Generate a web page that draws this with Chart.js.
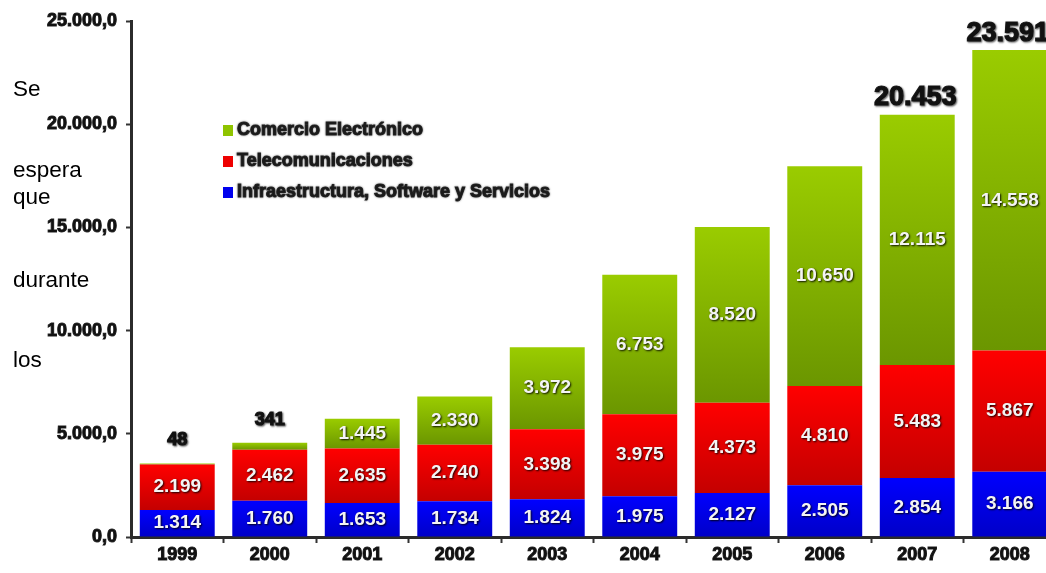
<!DOCTYPE html>
<html>
<head>
<meta charset="utf-8">
<script src="https://cdn.jsdelivr.net/npm/chart.js@4"></script>
<style>
  body { margin: 0; overflow: hidden; background: #fff; }
  #wrap { position: relative; width: 1046px; height: 573px; overflow: hidden; }
  #grafico { position: absolute; left: 0; top: 0; filter: blur(0.6px); }
  .nota { position: absolute; left: 13px; font: 22.5px "Liberation Sans", Arial, sans-serif; line-height: 22px; color: #000; }
</style>
</head>
<body>
<div id="wrap">
  <canvas id="grafico" width="1056" height="573"></canvas>
  <div class="nota" style="top:78px">Se</div>
  <div class="nota" style="top:159px">espera</div>
  <div class="nota" style="top:186px">que</div>
  <div class="nota" style="top:269px">durante</div>
  <div class="nota" style="top:349px">los</div>
</div>
<script>
(function () {
  // Datos por año
  var years = ["1999", "2000", "2001", "2002", "2003", "2004", "2005", "2006", "2007", "2008"];
  var infraestructura = [1314, 1760, 1653, 1734, 1824, 1975, 2127, 2505, 2854, 3166];
  var telecomunicaciones = [2199, 2462, 2635, 2740, 3398, 3975, 4373, 4810, 5483, 5867];
  var comercio = [48, 341, 1445, 2330, 3972, 6753, 8520, 10650, 12115, 14558];
  var yTicks = [0, 5000, 10000, 15000, 20000, 25000];
  // totales publicados encima de las dos últimas barras
  var totalYears = ["2007", "2008"];
  var totalValues = [20453, 23591];

  function fmt(n, dec) {
    var s = Math.round(n).toString().replace(/\B(?=(\d{3})+(?!\d))/g, ".");
    return dec ? s + ",0" : s;
  }

  // degradado vertical de cada tramo apilado
  function gradient(top, bottom) {
    return function (ctx) {
      var c = ctx.chart;
      if (ctx.type !== "data" || !c.chartArea) return top;
      var start = 0;
      for (var k = 0; k < ctx.datasetIndex; k++) start += c.data.datasets[k].data[ctx.dataIndex];
      var end = start + c.data.datasets[ctx.datasetIndex].data[ctx.dataIndex];
      var y0 = c.scales.y.getPixelForValue(end);
      var y1 = c.scales.y.getPixelForValue(start);
      if (!isFinite(y0) || !isFinite(y1) || y0 === y1) return top;
      var g = c.ctx.createLinearGradient(0, y0, 0, y1);
      g.addColorStop(0, top);
      g.addColorStop(1, bottom);
      return g;
    };
  }

  var legendItems = [
    { label: "Comercio Electrónico", color: "#8fc400" },
    { label: "Telecomunicaciones", color: "#ee0000" },
    { label: "Infraestructura, Software y Servicios", color: "#0000ee" }
  ];

  var legendPlugin = {
    id: "leyenda",
    afterDraw: function (chart) {
      var ctx = chart.ctx;
      var x = chart.chartArea.left + 92;
      var y = chart.chartArea.top + 109;
      ctx.save();
      ctx.font = "bold 18px 'Liberation Sans', Arial, sans-serif";
      ctx.textBaseline = "middle";
      legendItems.forEach(function (it, i) {
        var yy = y + i * 31;
        ctx.fillStyle = it.color;
        ctx.fillRect(x, yy - 5, 10, 11);
        ctx.fillStyle = "#1a1a1a";
        ctx.strokeStyle = "#333";
        ctx.lineWidth = 1;
        ctx.shadowColor = "rgba(0,0,0,0.5)";
        ctx.shadowBlur = 2;
        ctx.strokeText(it.label, x + 14, yy);
        ctx.fillText(it.label, x + 14, yy);
        ctx.shadowBlur = 0;
      });
      ctx.restore();
    }
  };

  function darkText(ctx, text, x, y) {
    ctx.fillStyle = "#111";
    ctx.strokeStyle = "#222";
    ctx.lineWidth = 1.2;
    ctx.shadowColor = "rgba(0,0,0,0.6)";
    ctx.shadowBlur = 2;
    ctx.shadowOffsetX = 1;
    ctx.shadowOffsetY = 1;
    ctx.strokeText(text, x, y);
    ctx.fillText(text, x, y);
  }

  var labelPlugin = {
    id: "valores",
    afterDatasetsDraw: function (chart) {
      var ctx = chart.ctx;
      ctx.save();
      ctx.textAlign = "center";
      ctx.textBaseline = "middle";
      chart.data.datasets.forEach(function (ds, d) {
        var meta = chart.getDatasetMeta(d);
        meta.data.forEach(function (el, i) {
          var v = ds.data[i];
          var h = Math.abs(el.base - el.y);
          if (h > 22) {
            ctx.font = "bold 19px 'Liberation Sans', Arial, sans-serif";
            ctx.fillStyle = "#f4f4f4";
            ctx.shadowColor = "rgba(0,0,0,0.9)";
            ctx.shadowBlur = 2;
            ctx.shadowOffsetX = 1;
            ctx.shadowOffsetY = 1;
            ctx.fillText(fmt(v), el.x, (el.y + el.base) / 2);
          } else if (d === chart.data.datasets.length - 1) {
            // tramo demasiado pequeño: valor encima de la barra
            ctx.font = "bold 18px 'Liberation Sans', Arial, sans-serif";
            darkText(ctx, fmt(v), el.x, el.y - 23);
          }
        });
      });
      // totales
      var top = chart.getDatasetMeta(chart.data.datasets.length - 1);
      totalYears.forEach(function (yr, k) {
        var el = top.data[years.indexOf(yr)];
        ctx.font = "bold 27px 'Liberation Sans', Arial, sans-serif";
        darkText(ctx, fmt(totalValues[k]), el.x - 2, el.y - 17);
      });
      ctx.restore();
    }
  };

  var tickFont = { family: "'Liberation Sans', Arial, sans-serif", size: 18, weight: "bold" };

  var ctx = document.getElementById("grafico").getContext("2d");
  new Chart(ctx, {
    type: "bar",
    data: {
      labels: years,
      datasets: [
        { label: "Infraestructura, Software y Servicios", data: infraestructura,
          backgroundColor: gradient("#0000ff", "#0000c8") },
        { label: "Telecomunicaciones", data: telecomunicaciones,
          backgroundColor: gradient("#ff0000", "#c40000") },
        { label: "Comercio Electrónico", data: comercio,
          backgroundColor: gradient("#9acc00", "#6b9600") }
      ]
    },
    options: {
      responsive: false,
      animation: false,
      barPercentage: 0.81,
      categoryPercentage: 1,
      layout: { padding: { top: 21, right: 0, left: 0, bottom: 0 } },
      plugins: { legend: { display: false }, tooltip: { enabled: false } },
      scales: {
        x: {
          stacked: true,
          afterFit: function (s) { s.height = 36; },
          grid: { drawOnChartArea: false, drawTicks: true, tickLength: 6, tickWidth: 2, tickColor: "#333" },
          border: { display: true, color: "#2b2b2b", width: 3 },
          ticks: { color: "#111", padding: 1, font: tickFont, textStrokeColor: "#222", textStrokeWidth: 1 }
        },
        y: {
          stacked: true,
          min: 0,
          max: 25000,
          afterFit: function (s) { s.width = 131; },
          afterBuildTicks: function (s) { s.ticks = yTicks.map(function (v) { return { value: v }; }); },
          grid: { drawOnChartArea: false, drawTicks: true, tickLength: 5, tickWidth: 2, tickColor: "#333" },
          border: { display: true, color: "#2b2b2b", width: 3 },
          ticks: {
            color: "#111",
            padding: 9,
            font: tickFont,
            textStrokeColor: "#222",
            textStrokeWidth: 1,
            callback: function (v) { return fmt(v, true); }
          }
        }
      }
    },
    plugins: [labelPlugin, legendPlugin]
  });
})();
</script>
</body>
</html>
